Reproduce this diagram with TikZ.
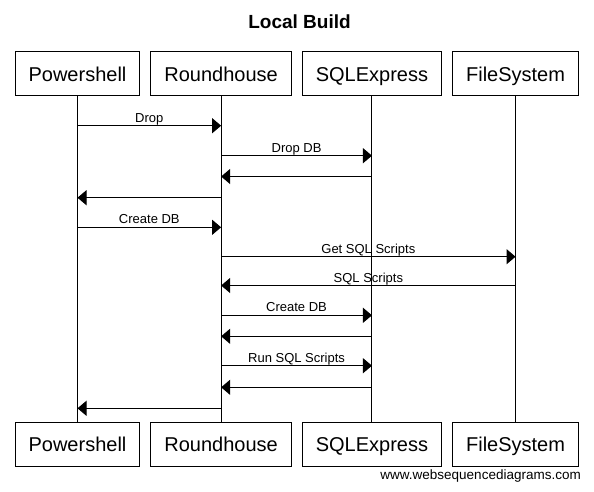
\documentclass[tikz,border=0pt]{standalone}
\usepackage{fontspec}
\setmainfont{Liberation Sans}
\usetikzlibrary{positioning,arrows.meta}

\begin{document}
\begin{tikzpicture}[x=1pt, y=-1pt, node distance=10pt]
    % Define styles
    \tikzstyle{actor} = [rectangle, minimum height=44pt, inner xsep=13.5pt, text height=14.4pt, text depth=0pt, text centered, draw=black, line width=1pt, font=\fontsize{20}{24}\selectfont]
    \tikzstyle{msg} = [anchor=base, yshift=3.5pt, inner sep=0pt, font=\fontsize{13}{15}\selectfont]
    \tikzstyle{arrow} = [line width=1pt, -{Triangle[length=9pt, width=15pt]}]
    \tikzstyle{lifeline} = [line width=1pt]

    \useasboundingbox (0,0) rectangle (594,491);

    % Title
    \node (title) at (299.5,21.5) {\fontsize{19}{23}\selectfont\bfseries Local Build};

    % Participants
    \node (powershell_top) [actor] at (77.5,73.85) {Powershell};
    \node (roundhouse_top) [actor, right=of powershell_top] {Roundhouse};
    \node (sqlexpress_top) [actor, right=of roundhouse_top] {SQLExpress};
    \node (filesystem_top) [actor, right=of sqlexpress_top] {FileSystem};
    \node (powershell_bottom) [actor, below=325.7pt of powershell_top] {Powershell};
    \node (roundhouse_bottom) [actor, below=325.7pt of roundhouse_top] {Roundhouse};
    \node (sqlexpress_bottom) [actor, below=325.7pt of sqlexpress_top] {SQLExpress};
    \node (filesystem_bottom) [actor, below=325.7pt of filesystem_top] {FileSystem};

    % Lifelines
    \draw [lifeline] (powershell_top) -- (powershell_bottom);
    \draw [lifeline] (roundhouse_top) -- (roundhouse_bottom);
    \draw [lifeline] (sqlexpress_top) -- (sqlexpress_bottom);
    \draw [lifeline] (filesystem_top) -- (filesystem_bottom);

    % Message rows
    \coordinate (m1) at (0,125.7);
    \coordinate (m2) at (0,155.7);
    \coordinate (m3) at (0,176.5);
    \coordinate (m4) at (0,197.7);
    \coordinate (m5) at (0,227.3);
    \coordinate (m6) at (0,256.7);
    \coordinate (m7) at (0,285.5);
    \coordinate (m8) at (0,315.3);
    \coordinate (m9) at (0,336.3);
    \coordinate (m10) at (0,365.7);
    \coordinate (m11) at (0,387.3);
    \coordinate (m12) at (0,408.3);

    % Arrows
    \draw [arrow] (powershell_top |- m1) -- node[msg] {Drop} (roundhouse_top |- m1);
    \draw [arrow] (roundhouse_top |- m2) -- node[msg] {Drop DB} (sqlexpress_top |- m2);
    \draw [arrow] (sqlexpress_top |- m3) -- (roundhouse_top |- m3);
    \draw [arrow] (roundhouse_top |- m4) -- (powershell_top |- m4);
    \draw [arrow] (powershell_top |- m5) -- node[msg] {Create DB} (roundhouse_top |- m5);
    \draw [arrow] (roundhouse_top |- m6) -- node[msg] {Get SQL Scripts} (filesystem_top |- m6);
    \draw [arrow] (filesystem_top |- m7) -- node[msg] {SQL Scripts} (roundhouse_top |- m7);
    \draw [arrow] (roundhouse_top |- m8) -- node[msg] {Create DB} (sqlexpress_top |- m8);
    \draw [arrow] (sqlexpress_top |- m9) -- (roundhouse_top |- m9);
    \draw [arrow] (roundhouse_top |- m10) -- node[msg] {Run SQL Scripts} (sqlexpress_top |- m10);
    \draw [arrow] (sqlexpress_top |- m11) -- (roundhouse_top |- m11);
    \draw [arrow] (roundhouse_top |- m12) -- (powershell_top |- m12);

    % Footer
    \node (footer) [anchor=east, inner sep=0pt, font=\fontsize{13.5}{16}\selectfont] at (581,476) {www.websequencediagrams.com};
\end{tikzpicture}
\end{document}
